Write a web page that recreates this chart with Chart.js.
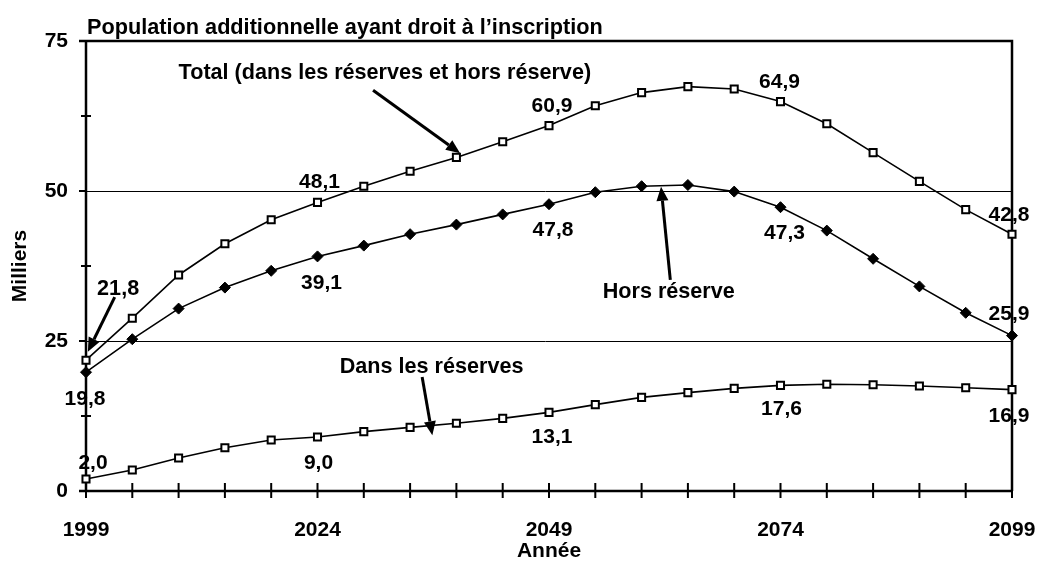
<!DOCTYPE html>
<html>
<head>
<meta charset="utf-8">
<script src="https://cdn.jsdelivr.net/npm/chart.js@4/dist/chart.umd.min.js"></script>
<style>
  html, body { margin: 0; padding: 0; background: #fff; }
  #wrap { width: 1037px; height: 561px; }
</style>
</head>
<body>
<div id="wrap"><canvas id="chart" width="1037" height="561"></canvas></div>
<script>
// --- data ---
const years = [1999, 2004, 2009, 2014, 2019, 2024, 2029, 2034, 2039, 2044, 2049,
  2054, 2059, 2064, 2069, 2074, 2079, 2084, 2089, 2094, 2099];
const total = [21.8, 28.8, 36.0, 41.2, 45.2, 48.1, 50.8, 53.3, 55.6, 58.2, 60.9,
  64.2, 66.4, 67.4, 67.0, 64.9, 61.2, 56.4, 51.6, 46.9, 42.8];
const horsReserve = [19.8, 25.3, 30.4, 33.9, 36.7, 39.1, 40.9, 42.8, 44.4, 46.1, 47.8,
  49.8, 50.8, 51.0, 49.9, 47.3, 43.4, 38.7, 34.1, 29.7, 25.9];
const dansReserves = [2.0, 3.5, 5.5, 7.2, 8.5, 9.0, 9.9, 10.6, 11.3, 12.1, 13.1,
  14.4, 15.6, 16.4, 17.1, 17.6, 17.8, 17.7, 17.5, 17.2, 16.9];
const yTicks = [0, 25, 50, 75];
const yMinorTicks = [12.5, 37.5, 62.5];

const title = 'Population additionnelle ayant droit à l\u2019inscription';
const font = '"Liberation Sans", Arial, sans-serif';

// value labels: which point, nudged in px from the marker
const valueLabels = [
  { ds: 0, i: 5, dx: 2, dy: -20 }, { ds: 0, i: 10, dx: 3, dy: -19 },
  { ds: 0, i: 15, dx: -1, dy: -19 }, { ds: 0, i: 20, dx: -3, dy: -19 },
  { ds: 1, i: 0, dx: -1, dy: 27 }, { ds: 1, i: 5, dx: 4, dy: 27 },
  { ds: 1, i: 10, dx: 4, dy: 26 }, { ds: 1, i: 15, dx: 4, dy: 26 },
  { ds: 1, i: 20, dx: -3, dy: -21 },
  { ds: 2, i: 0, dx: 7, dy: -16 }, { ds: 2, i: 5, dx: 1, dy: 26 },
  { ds: 2, i: 10, dx: 3, dy: 25 }, { ds: 2, i: 15, dx: 1, dy: 24 },
  { ds: 2, i: 20, dx: -3, dy: 27 }
];

const fmt = v => v.toFixed(1).replace('.', ',');

// callouts in data units: [year, value]
const callouts = [
  { text: 'Total (dans les réserves et hors réserve)', at: [2009.0, 69.6], from: [2030.0, 66.8], to: [2039.4, 56.3] },
  { text: 'Hors réserve', at: [2054.8, 33.2], from: [2062.1, 35.2], to: [2061.1, 50.7] },
  { text: 'Dans les réserves', at: [2026.4, 20.7], from: [2035.3, 19.0], to: [2036.4, 9.3] },
  { text: fmt(total[0]), at: [2000.2, 33.6], from: [2002.1, 32.3], to: [1999.2, 23.2] }
];

Chart.defaults.font.family = font;
Chart.defaults.color = '#000';

const arrow = (ctx, x1, y1, x2, y2) => {
  const a = Math.atan2(y2 - y1, x2 - x1);
  const len = 14, half = 6;
  const bx = x2 - Math.cos(a) * len, by = y2 - Math.sin(a) * len;
  ctx.beginPath();
  ctx.moveTo(x1, y1);
  ctx.lineTo(bx, by);
  ctx.lineWidth = 3;
  ctx.stroke();
  ctx.beginPath();
  ctx.moveTo(x2, y2);
  ctx.lineTo(bx + Math.sin(a) * half, by - Math.cos(a) * half);
  ctx.lineTo(bx - Math.sin(a) * half, by + Math.cos(a) * half);
  ctx.closePath();
  ctx.fill();
};

const framePlugin = {
  id: 'frame',
  beforeDatasetsDraw(chart) {
    const { ctx, chartArea: a, scales: { x, y } } = chart;
    ctx.save();
    ctx.strokeStyle = '#000';
    // thin grid lines
    ctx.lineWidth = 1;
    [25, 50].forEach(v => {
      const py = Math.round(y.getPixelForValue(v)) + 0.5;
      ctx.beginPath(); ctx.moveTo(a.left - 7, py); ctx.lineTo(a.right, py); ctx.stroke();
    });
    // heavy frame: axes, top and right
    ctx.lineWidth = 2.5;
    ctx.beginPath();
    ctx.moveTo(a.left - 7, a.top); ctx.lineTo(a.right, a.top); ctx.lineTo(a.right, a.bottom);
    ctx.moveTo(a.left - 7, a.bottom); ctx.lineTo(a.right, a.bottom);
    ctx.moveTo(a.left, a.top); ctx.lineTo(a.left, a.bottom);
    ctx.stroke();
    // y tick marks
    ctx.lineWidth = 2;
    ctx.beginPath();
    yTicks.forEach(v => { const py = y.getPixelForValue(v); ctx.moveTo(a.left - 7, py); ctx.lineTo(a.left, py); });
    yMinorTicks.forEach(v => { const py = y.getPixelForValue(v); ctx.moveTo(a.left - 5, py); ctx.lineTo(a.left + 5, py); });
    // x tick marks crossing the axis
    years.forEach((yr, i) => { const px = x.getPixelForValue(i); ctx.moveTo(px, a.bottom - 8); ctx.lineTo(px, a.bottom + 7); });
    ctx.stroke();
    ctx.restore();
  },
  afterDatasetsDraw(chart) {
    const { ctx, chartArea: a, scales: { x, y } } = chart;
    const px = yr => x.getPixelForValue((yr - years[0]) / 5);
    ctx.save();
    ctx.fillStyle = '#000';
    ctx.strokeStyle = '#000';
    ctx.textBaseline = 'middle';
    ctx.font = 'bold 21.7px ' + font;
    ctx.textAlign = 'left';
    ctx.fillText(title, a.left + 1, 28);

    ctx.font = 'bold 21px ' + font;
    ctx.textAlign = 'center';
    valueLabels.forEach(l => {
      const v = chart.data.datasets[l.ds].data[l.i];
      ctx.fillText(fmt(v), x.getPixelForValue(l.i) + l.dx, y.getPixelForValue(v) + l.dy);
    });

    ctx.font = 'bold 21.6px ' + font;
    ctx.textAlign = 'left';
    callouts.forEach(c => {
      ctx.fillText(c.text, px(c.at[0]), y.getPixelForValue(c.at[1]));
      arrow(ctx, px(c.from[0]), y.getPixelForValue(c.from[1]), px(c.to[0]), y.getPixelForValue(c.to[1]));
    });
    ctx.restore();
  }
};

const lineStyle = {
  borderColor: '#000',
  borderWidth: 1.6,
  tension: 0,
  pointBorderColor: '#000',
  pointBorderWidth: 2
};

new Chart(document.getElementById('chart').getContext('2d'), {
  type: 'line',
  data: {
    labels: years,
    datasets: [
      { label: 'Total', data: total, ...lineStyle, pointStyle: 'rect', pointRadius: 5, pointBackgroundColor: '#fff' },
      { label: 'Hors réserve', data: horsReserve, ...lineStyle, pointStyle: 'rectRot', pointRadius: 5.5, pointBackgroundColor: '#000', pointBorderWidth: 1 },
      { label: 'Dans les réserves', data: dansReserves, ...lineStyle, pointStyle: 'rect', pointRadius: 5, pointBackgroundColor: '#fff' }
    ]
  },
  options: {
    responsive: false,
    animation: false,
    layout: { padding: { left: 8, right: 0, top: 41, bottom: 0 } },
    plugins: {
      legend: { display: false },
      tooltip: { enabled: false }
    },
    scales: {
      x: {
        type: 'category',
        offset: false,
        grid: { display: false, drawTicks: false },
        border: { display: false },
        ticks: {
          autoSkip: false,
          maxRotation: 0,
          padding: 27,
          font: { size: 21, weight: 'bold' },
          callback: (v, i) => (i % 5 === 0 ? years[i] : '')
        },
        title: { display: true, text: 'Année', font: { size: 21, weight: 'bold' }, padding: { top: 0, bottom: -3 } },
        afterFit: s => { s.height = 70; s.paddingLeft = 0; s.paddingRight = 25; }
      },
      y: {
        min: 0,
        max: 75,
        afterBuildTicks: s => { s.ticks = yTicks.map(v => ({ value: v })); },
        grid: { display: false, drawTicks: false },
        border: { display: false },
        ticks: { padding: 18, font: { size: 21, weight: 'bold' } },
        title: { display: true, text: 'Milliers', font: { size: 21, weight: 'bold' }, padding: 0 },
        afterFit: s => { s.width = 78; }
      }
    }
  },
  plugins: [framePlugin]
});
</script>
</body>
</html>
